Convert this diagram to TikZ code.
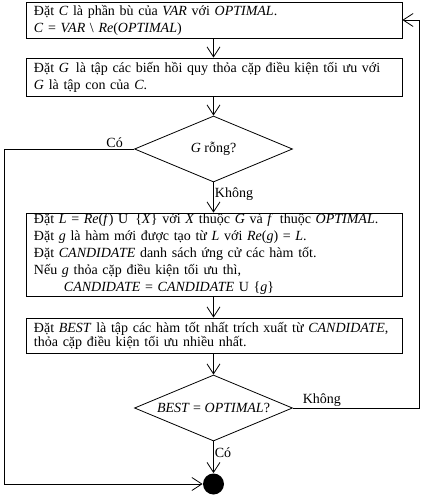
\documentclass[tikz,border=0pt]{standalone}
\usepackage{fontspec}
\setmainfont{Liberation Serif}
\usetikzlibrary{shapes.geometric,arrows.meta}
\begin{document}
\begin{tikzpicture}[x=1pt,y=-1pt,
  font=\fontsize{14}{17}\selectfont,
  line width=0.8pt,
  box/.style={draw, rectangle, minimum width=376pt, text width=360pt, inner xsep=8pt, inner ysep=0pt, align=left},
  dec/.style={draw, diamond, shape aspect=2.4, minimum width=158pt, minimum height=66pt, inner sep=0pt},
  arr/.style={-{Straight Barb[length=10pt,width=13pt,line width=0.8pt]}},
  lbl/.style={inner sep=1pt}
]
\useasboundingbox (0,0) rectangle (426,496);
\node[box, minimum height=36pt] (b1) at (214,20) {Đặt \textit{C} là phần bù của \textit{VAR} với \textit{OPTIMAL}.\\
\textit{C} = \textit{VAR} \textbackslash{} \textit{Re}(\textit{OPTIMAL})};
\node[box, minimum height=38pt] (b2) at (214,77) {Đặt \textit{G}\, là tập các biến hồi quy thỏa cặp điều kiện tối ưu với\\
\textit{G} là tập con của \textit{C}.};
\node[dec] (d1) at (213.5,149) {\textit{G} rỗng?};
\node[box, minimum height=83pt] (b3) at (214,254.5) {Đặt \textit{L} = \textit{Re}(\textit{f}) U\, \{\textit{X}\} với \textit{X} thuộc \textit{G} và \textit{f}\, thuộc \textit{OPTIMAL}.\\
Đặt \textit{g} là hàm mới được tạo từ \textit{L} với \textit{Re}(\textit{g}) = \textit{L}.\\
Đặt \textit{CANDIDATE} danh sách ứng cử các hàm tốt.\\
Nếu \textit{g} thỏa cặp điều kiện tối ưu thì,\\
\hspace*{30pt}\textit{CANDIDATE} = \textit{CANDIDATE} U \{\textit{g}\}};
\node[box, minimum height=35pt] (b4) at (214,335.5) {Đặt \textit{BEST} là tập các hàm tốt nhất trích xuất từ \textit{CANDIDATE},\\[-3pt]
thỏa cặp điều kiện tối ưu nhiều nhất.};
\node[dec] (d2) at (213.5,408) {\textit{BEST} = \textit{OPTIMAL}?};
\node[circle, fill=black, minimum size=21pt, inner sep=0pt] (end) at (213.5,484) {};
\coordinate (lt) at (4,149);
\coordinate (lb) at (4,484);
\coordinate (rb) at (419,408);
\coordinate (rt) at (419,20);
\draw[arr] (b1.south -| 213.5,0) -- (b2.north -| 213.5,0);
\draw[arr] (b2.south -| d1.north) -- (d1.north);
\draw[arr] (d1.south) -- (b3.north -| d1.south) node[lbl, pos=0.4, anchor=west] {Không};
\draw[arr] (b3.south -| d1.south) -- (b4.north -| d1.south);
\draw[arr] (b4.south -| d2.north) -- (d2.north);
\draw[arr] (d2.south) -- (end.north) node[lbl, pos=0.35, anchor=west] {Có};
\draw[arr] (d1.west) -- node[lbl, pos=0.15, anchor=south] {Có} (lt) -- (lb) -- (end.west);
\draw[arr] (d2.east) -- node[lbl, pos=0.23, anchor=south] {Không} (rb) -- (rt) -- (b1.east);
\end{tikzpicture}
\end{document}
